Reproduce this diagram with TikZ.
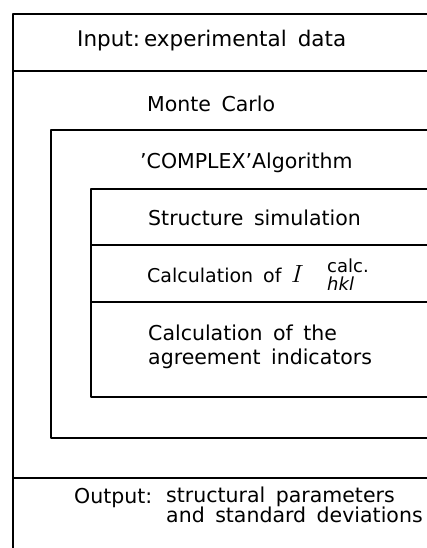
\documentclass[tikz,border=0pt]{standalone}
\usepackage{fontspec}
\setmainfont{DejaVu Sans}
\newcommand\mywsp[1]{\spaceskip=#1pt plus 2pt\relax}
\begin{document}
\begin{tikzpicture}[x=1pt,y=-1pt,
  frame/.style={line width=1.6pt, line cap=round, line join=round},
  lbl/.style={anchor=base west, inner sep=0pt, align=left,
    font=\fontsize{20.5}{20}\selectfont\mywsp{10.5}},
  sub/.style={anchor=base west, inner sep=0pt, font=\fontsize{18}{20}\selectfont}]
\useasboundingbox (0,0) rectangle (427,548);
\begin{scope}
\clip (0,0) rectangle (427,548);
% outer box
\draw[frame] (440,14) -- (13,14) -- (13,560);
\draw[frame] (13,71) -- (440,71);
% Monte Carlo box
\draw[frame] (440,130) -- (51,130) -- (51,438) -- (440,438);
% COMPLEX box
\draw[frame] (440,189) -- (91,189) -- (91,397) -- (440,397);
\draw[frame] (91,245) -- (440,245);
\draw[frame] (91,302) -- (440,302);
% output separator
\draw[frame] (13,478) -- (440,478);
\end{scope}
\node[lbl, font=\fontsize{21.5}{20}\selectfont\mywsp{11}] (input) at (77,47) {Input:\hspace{4pt}experimental data};
\node[lbl] (mc) at (147,112) {Monte Carlo};
\node[lbl] (cx) at (140,168) {'COMPLEX'Algorithm};
\node[lbl] (ss) at (148,225) {Structure simulation};
\node[lbl, font=\fontsize{19}{20}\selectfont\mywsp{10}] (ci) at (147,282) {Calculation of};
\node[lbl, font=\fontsize{24}{28}\selectfont] (iv) at (291,282) {$I$};
\node[sub] (calc) at (327,272) {calc.};
\node[sub] (hkl) at (327,290) {\textit{hkl}};
\node[lbl, font=\fontsize{20.5}{24}\selectfont\mywsp{10.5}] (ca) at (148,364) {Calculation of the\\agreement indicators};
\node[lbl] (out) at (74,503) {Output:};
\node[lbl] (sp) at (166,522) {structural parameters\\and standard deviations};
\end{tikzpicture}
\end{document}
